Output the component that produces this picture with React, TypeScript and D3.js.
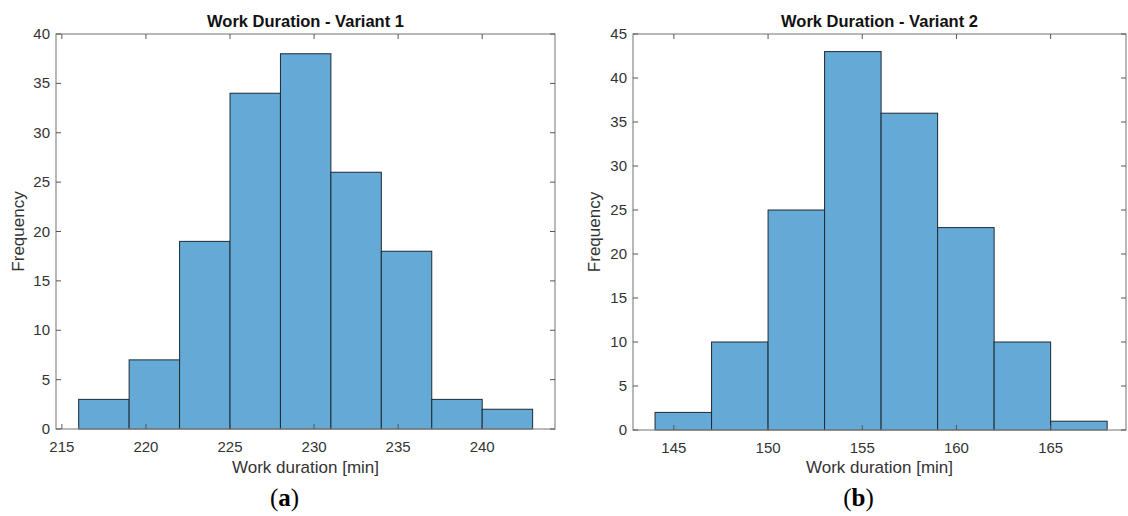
import React, { useEffect, useRef } from 'react';
import * as d3 from 'd3';

const binWidth = 3;
const v1Edges = [216, 219, 222, 225, 228, 231, 234, 237, 240];
const v1Counts = [3, 7, 19, 34, 38, 26, 18, 3, 2];
const v1XTicks = [215, 220, 225, 230, 235, 240];
const v1YTicks = [0, 5, 10, 15, 20, 25, 30, 35, 40];

const v2Edges = [144, 147, 150, 153, 156, 159, 162, 165];
const v2Counts = [2, 10, 25, 43, 36, 23, 10, 1];
const v2XTicks = [145, 150, 155, 160, 165];
const v2YTicks = [0, 5, 10, 15, 20, 25, 30, 35, 40, 45];

const panels = [
    {
        title: 'Work Duration - Variant 1', tag: 'a', edges: v1Edges, counts: v1Counts,
        xTicks: v1XTicks, yTicks: v1YTicks, xDomain: [214.65, 244.33], yMax: 40,
        left: 56, right: 555, top: 34, bottom: 429, yLabelX: 18
    },
    {
        title: 'Work Duration - Variant 2', tag: 'b', edges: v2Edges, counts: v2Counts,
        xTicks: v2XTicks, yTicks: v2YTicks, xDomain: [142.83, 169], yMax: 45,
        left: 633, right: 1126, top: 34, bottom: 430, yLabelX: 594
    }
];

const App = () => {
    const ref = useRef<SVGSVGElement>(null);

    useEffect(() => {
        const svg = d3.select(ref.current);
        svg.selectAll('*').remove();
        const font = '"Liberation Sans", Arial, sans-serif';
        const textColor = '#333';

        panels.forEach(p => {
            const x = d3.scaleLinear().domain(p.xDomain).range([p.left, p.right]);
            const y = d3.scaleLinear().domain([0, p.yMax]).range([p.bottom, p.top]);
            const g = svg.append('g');

            // bars
            g.selectAll('rect.bar')
                .data(p.counts)
                .enter()
                .append('rect')
                .attr('class', 'bar')
                .attr('x', (d, i) => x(p.edges[i]))
                .attr('y', d => y(d))
                .attr('width', (d, i) => x(p.edges[i] + binWidth) - x(p.edges[i]))
                .attr('height', d => y(0) - y(d))
                .style('fill', '#65a9d7')
                .style('stroke', '#1e2a33')
                .style('stroke-width', 1);

            // box
            g.append('rect')
                .attr('x', p.left)
                .attr('y', p.top)
                .attr('width', p.right - p.left)
                .attr('height', p.bottom - p.top)
                .style('fill', 'none')
                .style('stroke', '#8a8a8a')
                .style('stroke-width', 1.2);

            const tickLen = 5;
            // x ticks (bottom + top, inward)
            p.xTicks.forEach(t => {
                g.append('line').attr('x1', x(t)).attr('x2', x(t))
                    .attr('y1', p.bottom).attr('y2', p.bottom - tickLen)
                    .style('stroke', '#555').style('stroke-width', 1);
                g.append('line').attr('x1', x(t)).attr('x2', x(t))
                    .attr('y1', p.top).attr('y2', p.top + tickLen)
                    .style('stroke', '#555').style('stroke-width', 1);
                g.append('text').attr('x', x(t)).attr('y', p.bottom + 23)
                    .attr('text-anchor', 'middle')
                    .style('font-family', font).style('font-size', '15px').style('fill', textColor)
                    .text(t);
            });

            // y ticks (left + right, inward)
            p.yTicks.forEach(t => {
                g.append('line').attr('x1', p.left).attr('x2', p.left + tickLen)
                    .attr('y1', y(t)).attr('y2', y(t))
                    .style('stroke', '#555').style('stroke-width', 1);
                g.append('line').attr('x1', p.right).attr('x2', p.right - tickLen)
                    .attr('y1', y(t)).attr('y2', y(t))
                    .style('stroke', '#555').style('stroke-width', 1);
                g.append('text').attr('x', p.left - 6).attr('y', y(t) + 5)
                    .attr('text-anchor', 'end')
                    .style('font-family', font).style('font-size', '15px').style('fill', textColor)
                    .text(t);
            });

            const cx = (p.left + p.right) / 2;
            g.append('text').attr('x', cx).attr('y', 27)
                .attr('text-anchor', 'middle')
                .style('font-family', font).style('font-size', '16.5px').style('font-weight', 'bold')
                .style('fill', '#111')
                .text(p.title);

            g.append('text').attr('x', cx).attr('y', 473)
                .attr('text-anchor', 'middle')
                .style('font-family', font).style('font-size', '17px').style('fill', textColor)
                .text('Work duration [min]');

            const cy = (p.top + p.bottom) / 2;
            g.append('text')
                .attr('transform', `translate(${p.yLabelX + 6}, ${cy}) rotate(-90)`)
                .attr('text-anchor', 'middle')
                .style('font-family', font).style('font-size', '17px').style('fill', textColor)
                .text('Frequency');

            const lab = g.append('text').attr('x', cx - 21).attr('y', 506)
                .attr('text-anchor', 'middle')
                .style('font-family', '"Liberation Serif", "DejaVu Serif", serif')
                .style('font-size', '25px').style('fill', '#000');
            lab.append('tspan').text('(');
            lab.append('tspan').style('font-weight', 'bold').text(p.tag);
            lab.append('tspan').text(')');
        });
    }, []);

    return (
        <svg ref={ref} width={1128} height={516}
            style={{ position: 'absolute', left: 0, top: 0, background: '#fff' }} />
    );
};

export default App;
